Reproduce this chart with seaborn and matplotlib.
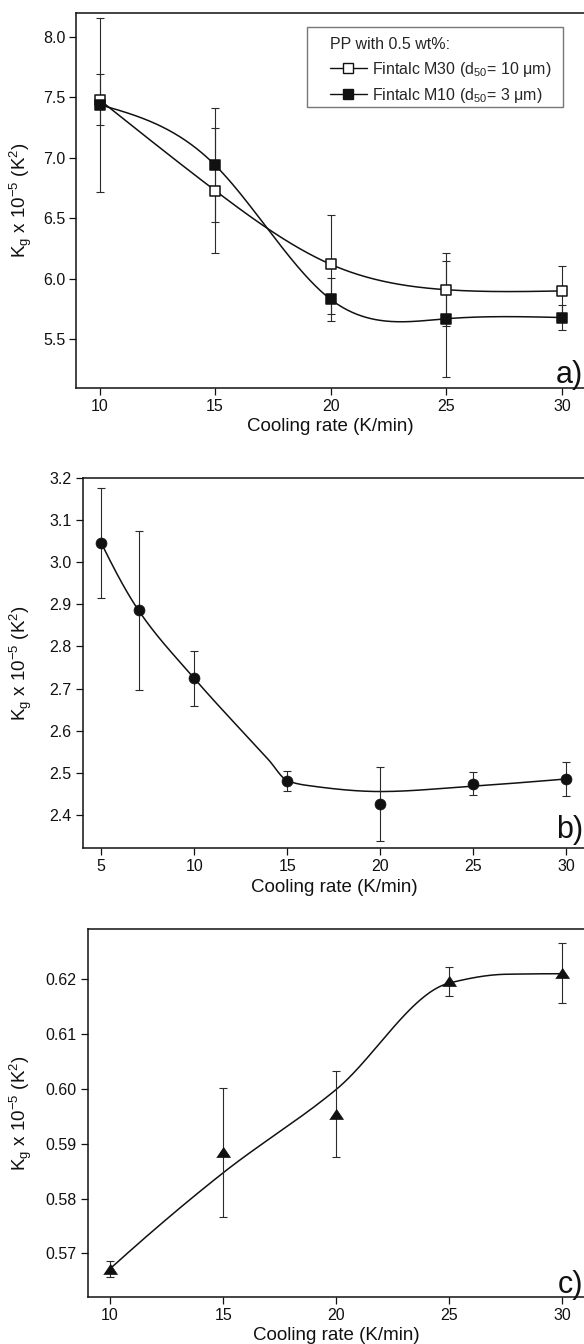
import numpy as np
import pandas as pd
import matplotlib
matplotlib.use("Agg")
import matplotlib.pyplot as plt
import seaborn as sns
from matplotlib.lines import Line2D
from matplotlib.patches import Rectangle
from matplotlib.ticker import FormatStrFormatter, MultipleLocator

# ---------------- data ----------------
# panel a
rate_a = [10, 15, 20, 25, 30]
kg_m30 = [7.48, 6.73, 6.12, 5.91, 5.90]
err_m30 = [0.21, 0.52, 0.41, 0.30, 0.21]
kg_m10 = [7.44, 6.94, 5.83, 5.67, 5.68]
err_m10 = [0.72, 0.47, 0.18, 0.48, 0.105]

# panel b
rate_b = [5, 7, 10, 15, 20, 25, 30]
kg_b = [3.046, 2.886, 2.724, 2.481, 2.426, 2.474, 2.485]
err_b = [0.131, 0.189, 0.065, 0.024, 0.088, 0.027, 0.041]
fit_b_x = [5, 7, 10, 14, 15, 16, 20, 25, 30]
fit_b_y = [3.046, 2.886, 2.724, 2.530, 2.481, 2.470, 2.455, 2.468, 2.485]

# panel c
rate_c = [10, 15, 20, 25, 30]
kg_c = [0.5672, 0.5884, 0.5954, 0.6196, 0.6211]
err_c = [0.0015, 0.0117, 0.0079, 0.0026, 0.0055]
fit_c_x = [10, 15, 20, 25, 27.5, 30]
fit_c_y = [0.5672, 0.5847, 0.5999, 0.6193, 0.6209, 0.6210]

legend_title = "PP with 0.5 wt%:"
label_m30 = "Fintalc M30 (d$_{50}$= 10 \u03bcm)"
label_m10 = "Fintalc M10 (d$_{50}$= 3 \u03bcm)"
xlabel = "Cooling rate (K/min)"
ylabel = "K$_{g}$ x 10$^{-5}$ (K$^{2}$)"


# ---------------- smooth connecting curves ----------------
def natural_spline(x, y, xs):
    x = np.asarray(x, float); y = np.asarray(y, float)
    n = len(x); h = np.diff(x)
    A = np.zeros((n, n)); r = np.zeros(n)
    A[0, 0] = A[-1, -1] = 1
    for i in range(1, n - 1):
        A[i, i - 1] = h[i - 1]; A[i, i] = 2 * (h[i - 1] + h[i]); A[i, i + 1] = h[i]
        r[i] = 3 * ((y[i + 1] - y[i]) / h[i] - (y[i] - y[i - 1]) / h[i - 1])
    c = np.linalg.solve(A, r)
    b = (y[1:] - y[:-1]) / h - h * (2 * c[:-1] + c[1:]) / 3
    d = (c[1:] - c[:-1]) / (3 * h)
    idx = np.clip(np.searchsorted(x, xs) - 1, 0, n - 2)
    dx = xs - x[idx]
    return y[idx] + b[idx] * dx + c[idx] * dx ** 2 + d[idx] * dx ** 3


def pchip(x, y, xs):
    x = np.asarray(x, float); y = np.asarray(y, float)
    n = len(x); h = np.diff(x); dl = np.diff(y) / h
    m = np.zeros(n)
    for k in range(1, n - 1):
        if dl[k - 1] * dl[k] > 0:
            w1 = 2 * h[k] + h[k - 1]; w2 = h[k] + 2 * h[k - 1]
            m[k] = (w1 + w2) / (w1 / dl[k - 1] + w2 / dl[k])

    def end(h0, h1, d0, d1):
        v = ((2 * h0 + h1) * d0 - h0 * d1) / (h0 + h1)
        if np.sign(v) != np.sign(d0):
            return 0.0
        if np.sign(d0) != np.sign(d1) and abs(v) > 3 * abs(d0):
            return 3 * d0
        return v
    m[0] = end(h[0], h[1], dl[0], dl[1])
    m[-1] = end(h[-1], h[-2], dl[-1], dl[-2])
    idx = np.clip(np.searchsorted(x, xs) - 1, 0, n - 2)
    t = (xs - x[idx]) / h[idx]
    h00 = 2 * t ** 3 - 3 * t ** 2 + 1; h10 = t ** 3 - 2 * t ** 2 + t
    h01 = -2 * t ** 3 + 3 * t ** 2; h11 = t ** 3 - t ** 2
    return h00 * y[idx] + h10 * h[idx] * m[idx] + h01 * y[idx + 1] + h11 * h[idx] * m[idx + 1]


# ---------------- style ----------------
sns.set_theme(style="ticks")
plt.rcParams["font.family"] = ["Liberation Sans", "DejaVu Sans"]
plt.rcParams["mathtext.default"] = "regular"
INK = "#111111"
ERR = "#2a2a2a"
TICK_FS = 11.5
LABEL_FS = 13.5

W, H = 584, 1344
fig = plt.figure(figsize=(W / 100, H / 100), dpi=100)


def px_axes(left, top, right, bottom):
    return fig.add_axes([left / W, 1 - bottom / H, (right - left) / W, (bottom - top) / H])


ax_a = px_axes(76.4, 12.7, 585, 387.7)
ax_b = px_axes(82.7, 478.3, 585, 848.3)
ax_c = px_axes(87.5, 929.3, 585, 1296.7)


def style_axes(ax, xlim, ylim, xstep, ystep, yfmt, ylab_x):
    ax.set_xlim(*xlim); ax.set_ylim(*ylim)
    ax.xaxis.set_major_locator(MultipleLocator(xstep))
    ax.yaxis.set_major_locator(MultipleLocator(ystep))
    ax.yaxis.set_major_formatter(FormatStrFormatter(yfmt))
    ax.spines["right"].set_visible(False)
    for s in ("left", "bottom", "top"):
        ax.spines[s].set_color(INK); ax.spines[s].set_linewidth(1.1)
    ax.tick_params(direction="out", length=5, width=0.9, colors=INK,
                   labelsize=TICK_FS, pad=3, top=False, right=False)
    ax.set_xlabel(xlabel, fontsize=LABEL_FS, color=INK, labelpad=3)
    ax.set_ylabel(ylabel, fontsize=LABEL_FS, color=INK)
    ax.yaxis.set_label_coords(ylab_x, 0.5)
    ax.grid(False)


def draw_series(ax, x, y, err, fx, fy, interp, marker, size, face, lw_edge=1.0):
    xs = np.linspace(min(fx), max(fx), 400)
    curve = pd.DataFrame({"rate": xs, "fit": interp(fx, fy, xs)})
    sns.lineplot(data=curve, x="rate", y="fit", ax=ax, color=INK, lw=1.1,
                 sort=False, estimator=None, zorder=2)
    ax.errorbar(x, y, yerr=err, fmt="none", ecolor=ERR, elinewidth=0.8,
                capsize=2.8, capthick=0.8, zorder=3)
    pts = pd.DataFrame({"rate": x, "kg": y})
    sns.scatterplot(data=pts, x="rate", y="kg", ax=ax, marker=marker, s=size,
                    color=face, edgecolor=INK, linewidth=lw_edge, zorder=4)


# panel a
draw_series(ax_a, rate_a, kg_m30, err_m30, rate_a, kg_m30, natural_spline, "s", 48, "white", 1.1)
draw_series(ax_a, rate_a, kg_m10, err_m10, rate_a, kg_m10, natural_spline, "s", 48, INK, 1.1)
style_axes(ax_a, (9, 31), (5.1, 8.2), 5, 0.5, "%.1f", -0.083)
handles = [
    Line2D([], [], color=INK, lw=1.0, marker="s", ms=6.5, mfc="white", mec=INK, mew=1.0),
    Line2D([], [], color=INK, lw=1.0, marker="s", ms=6.5, mfc=INK, mec=INK, mew=1.0),
]
# legend frame (box drawn separately for its uneven inner margins)
ax_a.add_patch(Rectangle((0.454, 0.7477), 0.957 - 0.454, 0.9627 - 0.7477,
                         transform=ax_a.transAxes, facecolor="white",
                         edgecolor="#777777", lw=1.0, zorder=5))
leg = ax_a.legend(handles, [label_m30, label_m10], title=legend_title,
                  loc="upper left", bbox_to_anchor=(0.4986, 0.934), borderaxespad=0,
                  fontsize=TICK_FS, title_fontsize=TICK_FS, alignment="left",
                  frameon=False, handlelength=2.3, handletextpad=0.3,
                  labelspacing=0.45, borderpad=0)
leg.set_zorder(6)
ax_a.text(0.997, 0.012, "a)", transform=ax_a.transAxes, ha="right", va="baseline",
          fontsize=22, color=INK)

# panel b
draw_series(ax_b, rate_b, kg_b, err_b, fit_b_x, fit_b_y, pchip, "o", 62, INK, 0.5)
style_axes(ax_b, (4, 31), (2.32, 3.2), 5, 0.1, "%.1f", -0.097)
ax_b.text(0.997, 0.028, "b)", transform=ax_b.transAxes, ha="right", va="baseline",
          fontsize=22, color=INK)

# panel c
tri = [(-1.0, -0.72), (1.0, -0.72), (0.0, 0.76)]
draw_series(ax_c, rate_c, kg_c, err_c, fit_c_x, fit_c_y, pchip, tri, 100, INK, 0.5)
style_axes(ax_c, (9, 31), (0.5621, 0.6291), 5, 0.01, "%.2f", -0.1075)
ax_c.text(0.997, 0.01, "c)", transform=ax_c.transAxes, ha="right", va="baseline",
          fontsize=22, color=INK)

fig.savefig("out.png", dpi=100)
